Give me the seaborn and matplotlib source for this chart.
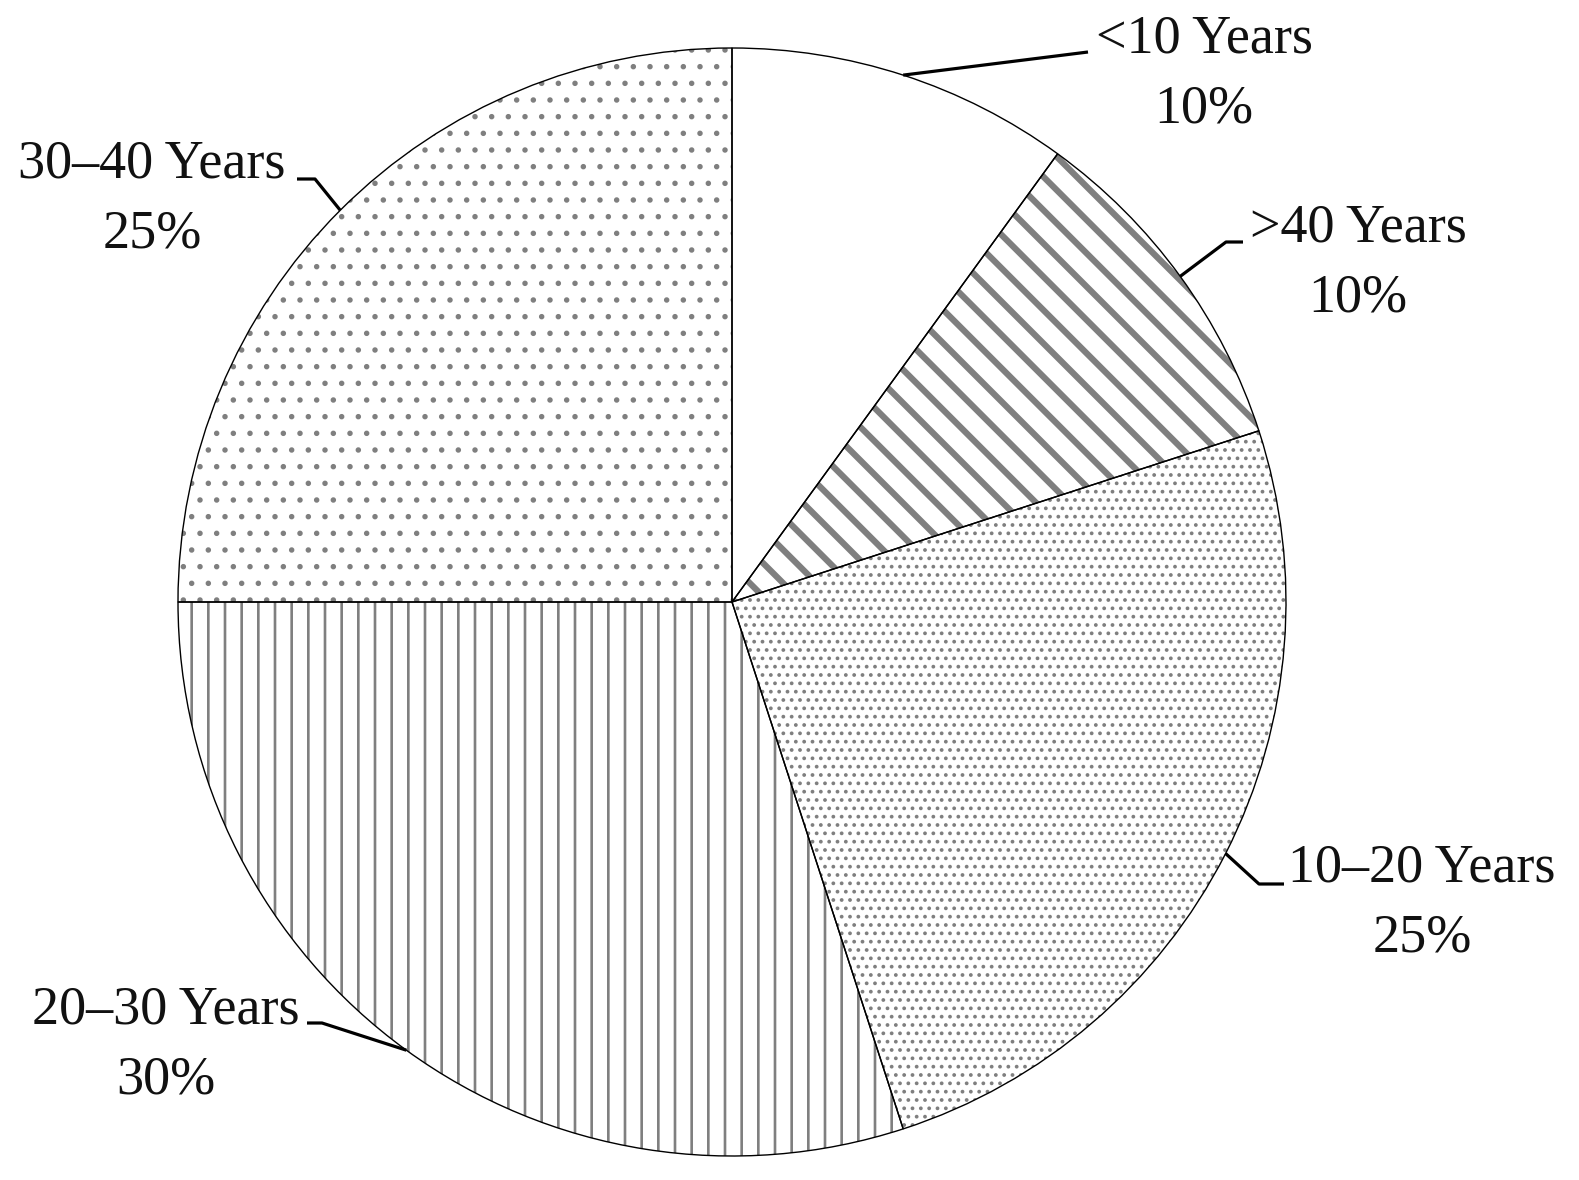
import numpy as np
import seaborn as sns
import matplotlib.pyplot as plt

# data
labels = ['<10 Years', '>40 Years', '10–20 Years', '20–30 Years', '30–40 Years']
shares = [10, 10, 25, 30, 25]

# fill patterns per slice
hatches = ['', '\\', '..', '|', '.']
hatch_lw = [1.0, 4.5, 1.5, 1.9, 1.5]

# label centres and leader line bends (pixels, origin bottom-left)
text_xy = [(1204, 1106), (1358, 917), (1422, 277), (166, 135), (152, 981)]
bends = [[(1088, 1128)],
         [(1226, 938), (1243, 938)],
         [(1259, 296), (1284, 296)],
         [(322, 157), (307, 157)],
         [(315, 1001), (297, 1001)]]

sns.set_style('white')
plt.rcParams['font.family'] = ['Liberation Serif', 'DejaVu Serif']

W, H = 1579, 1180
cx, cy, r = 732, 578, 554

fig = plt.figure(figsize=(W / 100, H / 100), dpi=100)
ax = fig.add_axes([0, 0, 1, 1])

# hatched fill layer (hatch colour follows edgecolor, so keep it gray here)
wedges, _ = ax.pie(shares, startangle=90, counterclock=False, radius=r,
                   center=(cx, cy), colors=['white'] * len(shares),
                   wedgeprops=dict(edgecolor='#7f7f7f', linewidth=0))
for w, h, lw in zip(wedges, hatches, hatch_lw):
    w.set_hatch(h)
    if hasattr(w, 'set_hatch_linewidth'):
        w.set_hatch_linewidth(lw)
    else:
        w._hatch_linewidth = lw

# black outlines on top
ax.pie(shares, startangle=90, counterclock=False, radius=r, center=(cx, cy),
       wedgeprops=dict(fill=False, edgecolor='black', linewidth=1.0))

# leader lines and labels
for w, lab, v, (tx, ty), bend in zip(wedges, labels, shares, text_xy, bends):
    ang = np.deg2rad((w.theta1 + w.theta2) / 2)
    px, py = cx + r * np.cos(ang), cy + r * np.sin(ang)
    xs = [px] + [b[0] for b in bend]
    ys = [py] + [b[1] for b in bend]
    ax.plot(xs, ys, color='black', lw=2.3, solid_capstyle='butt')
    ax.text(tx, ty, f'{lab}\n{v}%', ha='center', va='center',
            fontsize=39, linespacing=1.5, color='#111111')

ax.set_xlim(0, W)
ax.set_ylim(0, H)
ax.set_aspect('equal')
ax.axis('off')

fig.savefig('out.png', dpi=100)
